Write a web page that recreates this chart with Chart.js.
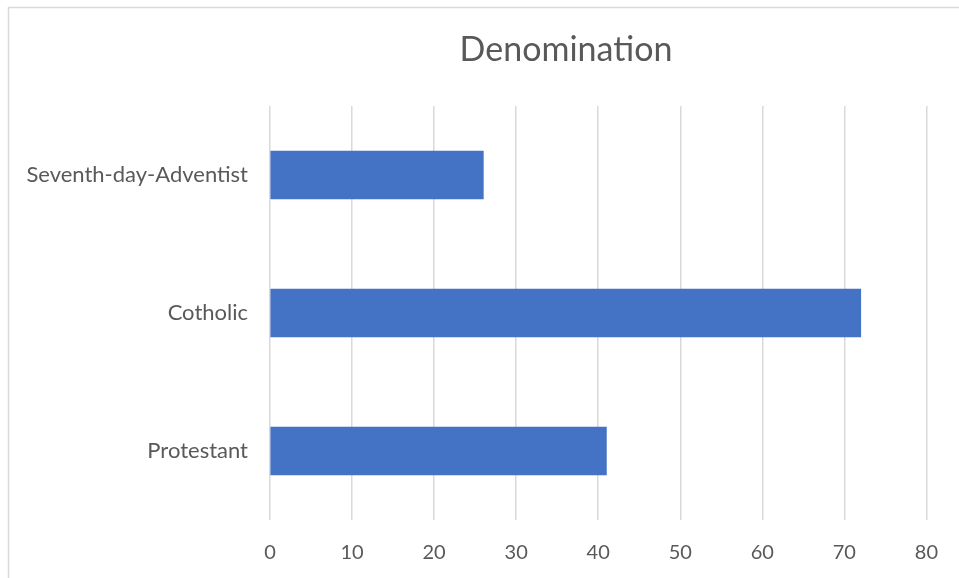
<!DOCTYPE html>
<html>
<head>
<meta charset="utf-8">
<script src="https://cdn.jsdelivr.net/npm/chart.js@4/dist/chart.umd.min.js"></script>
<style>
  html, body { margin: 0; padding: 0; background: #ffffff; }
  #wrap { width: 959px; height: 578px; position: relative; }
</style>
</head>
<body>
<div id="wrap"><canvas id="c" width="959" height="578"></canvas></div>
<script>
const titleText = 'Denomination';
const categories = ['Seventh-day-Adventist', 'Cotholic', 'Protestant'];
const counts = [26, 72, 41];
const tickValues = [0, 10, 20, 30, 40, 50, 60, 70, 80];

const textColor = '#595959';
const fontFamily = 'Lato, "Open Sans", "Liberation Sans", sans-serif';

// Frame lines and the chart heading
const framePlugin = {
  id: 'frame',
  beforeDraw(chart) {
    const ctx = chart.ctx;
    ctx.save();
    ctx.strokeStyle = '#d9d9d9';
    ctx.lineWidth = 1.5;
    ctx.beginPath();
    ctx.moveTo(8.5, 578);
    ctx.lineTo(8.5, 7.5);
    ctx.lineTo(959, 7.5);
    ctx.stroke();
    ctx.restore();
  },
  afterDraw(chart) {
    const ctx = chart.ctx;
    ctx.save();
    ctx.fillStyle = textColor;
    ctx.font = '34px ' + fontFamily;
    ctx.textAlign = 'center';
    ctx.textBaseline = 'middle';
    ctx.fillText(titleText, 566, 50);
    ctx.restore();
  }
};

new Chart(document.getElementById('c'), {
  type: 'bar',
  data: {
    labels: categories,
    datasets: [{
      label: 'Count',
      data: counts,
      backgroundColor: '#4472C4',
      borderWidth: 0,
      barThickness: 48
    }]
  },
  options: {
    indexAxis: 'y',
    responsive: false,
    animation: false,
    layout: { padding: { top: 106, right: 30, bottom: 0, left: 0 } },
    plugins: {
      legend: { display: false },
      title: { display: false },
      tooltip: { enabled: false }
    },
    scales: {
      x: {
        min: 0,
        max: 80,
        afterBuildTicks(scale) { scale.ticks = tickValues.map(v => ({ value: v })); },
        afterFit(scale) { scale.height = 58; },
        grid: { color: '#d9d9d9', lineWidth: 1.5, drawTicks: false },
        border: { display: false },
        ticks: {
          color: textColor,
          font: { family: fontFamily, size: 20 },
          padding: 21
        }
      },
      y: {
        afterFit(scale) { scale.width = 270; },
        grid: { display: false, drawTicks: false },
        border: { display: false },
        ticks: {
          color: textColor,
          font: { family: fontFamily, size: 22 },
          padding: 22
        }
      }
    }
  },
  plugins: [framePlugin]
});
</script>
</body>
</html>
